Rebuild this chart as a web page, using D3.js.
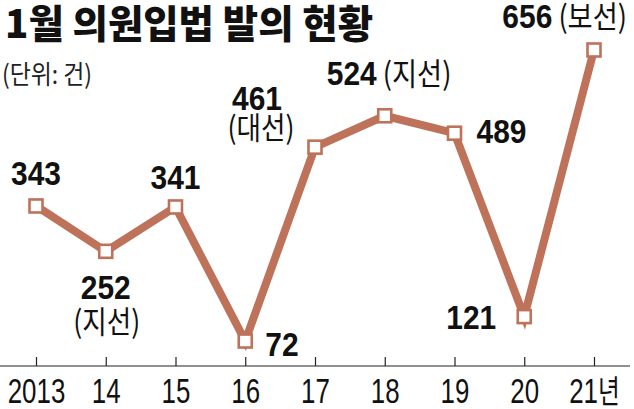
<!DOCTYPE html>
<html><head><meta charset="utf-8">
<script src="https://cdn.jsdelivr.net/npm/d3@7"></script>
<style>
html,body{margin:0;padding:0;background:#fff;}
svg{display:block;}
</style></head>
<body>
<svg id="c" width="634" height="409"></svg>
<script>
const title = "1월 의원입법 발의 현황";
const unit = "(단위: 건)";
const years = ["2013","14","15","16","17","18","19","20","21년"];
const values = [343, 252, 341, 72, 461, 524, 489, 121, 656];
const notes = ["", "(지선)", "", "", "(대선)", "(지선)", "", "", "(보선)"];

const svg = d3.select("#c");
const lineColor = "#bd7259";
const numFont = "'Liberation Sans', Arial, sans-serif";
const korFont = "'Noto Sans CJK KR', sans-serif";

const x = d3.scalePoint().domain(years).range([36, 594]);
const y = d3.scaleLinear().domain([0, 656]).range([376.9, 50]);

// title
svg.append("text").attr("x", 5).attr("y", 38)
  .attr("font-family", korFont).attr("font-weight", 900).attr("font-size", 39)
  .attr("textLength", 368).attr("lengthAdjust", "spacingAndGlyphs")
  .attr("fill", "#111").text(title);

svg.append("text").attr("transform", "translate(2,84) scale(0.88,1)")
  .attr("font-family", korFont).attr("font-weight", 400).attr("font-size", 26)
  .attr("fill", "#222").text(unit);

// axis
const axisY = 366;
const axis = d3.axisBottom(x).tickSize(0).tickFormat("");
const ag = svg.append("g").attr("transform", `translate(0,${axisY})`).call(axis);
ag.select(".domain").remove();
svg.append("line").attr("x1", 0).attr("x2", 630).attr("y1", axisY).attr("y2", axisY)
  .attr("stroke", "#222").attr("stroke-width", 1.2);
ag.selectAll(".tick").append("line").attr("y1", 0).attr("y2", -9)
  .attr("stroke", "#222").attr("stroke-width", 1.2);
ag.selectAll(".tick").append("text")
  .attr("transform", "translate(0,37) scale(0.74,1)")
  .attr("text-anchor", "middle").attr("fill", "#111")
  .attr("font-family", numFont).attr("font-size", 35)
  .each(function(d){
    const t = d3.select(this);
    const m = d.match(/^(\d+)(.*)$/);
    t.append("tspan").text(m[1]);
    if (m[2]) t.append("tspan").attr("font-family", korFont).attr("font-size", 32).text(m[2]);
  });

// line
const pts = years.map((yr, i) => ({yr, v: values[i], note: notes[i]}));
svg.append("path").datum(pts)
  .attr("d", d3.line().x(d => x(d.yr)).y(d => y(d.v)))
  .attr("fill", "none").attr("stroke", lineColor).attr("stroke-width", 8)
  .attr("stroke-linejoin", "miter");

svg.selectAll("rect.m").data(pts).join("rect").attr("class", "m")
  .attr("x", d => x(d.yr) - 6.5).attr("y", d => y(d.v) - 6.5)
  .attr("width", 13).attr("height", 13)
  .attr("fill", "#fff").attr("stroke", lineColor).attr("stroke-width", 2.6);

// label placement relative to each point
const place = [
  {dx: 0, dy: -21, a: "middle"},
  {dx: 0, dy: 48, a: "middle", nDx: 1, nDy: 82},
  {dx: 0, dy: -18, a: "middle"},
  {dx: 20, dy: 15, a: "start"},
  {dx: -58, dy: -37, a: "middle", nDx: -54, nDy: -8},
  {dx: -58, dy: -31, a: "start", inline: true},
  {dx: 22, dy: 10, a: "start"},
  {dx: -28, dy: 12, a: "end"},
  {dx: 33, dy: -22, a: "end", inline: true}
];
const sx = 0.88;
pts.forEach((d, i) => {
  const p = place[i];
  const px = x(d.yr) + p.dx, py = y(d.v) + p.dy;
  const t = svg.append("text")
    .attr("transform", `translate(${px},${py}) scale(${sx},1)`)
    .attr("text-anchor", p.a).attr("fill", "#111");
  t.append("tspan").attr("font-family", numFont).attr("font-weight", 700)
    .attr("font-size", 34).text(d.v);
  if (d.note && p.inline) {
    t.append("tspan").attr("font-family", korFont).attr("font-weight", 400)
      .attr("font-size", 31).text(" " + d.note);
  }
  if (d.note && !p.inline) {
    svg.append("text")
      .attr("transform", `translate(${x(d.yr) + p.nDx},${y(d.v) + p.nDy}) scale(0.86,1)`)
      .attr("text-anchor", "middle").attr("fill", "#111")
      .attr("font-family", korFont).attr("font-weight", 400).attr("font-size", 31)
      .text(d.note);
  }
});
</script>
</body></html>
